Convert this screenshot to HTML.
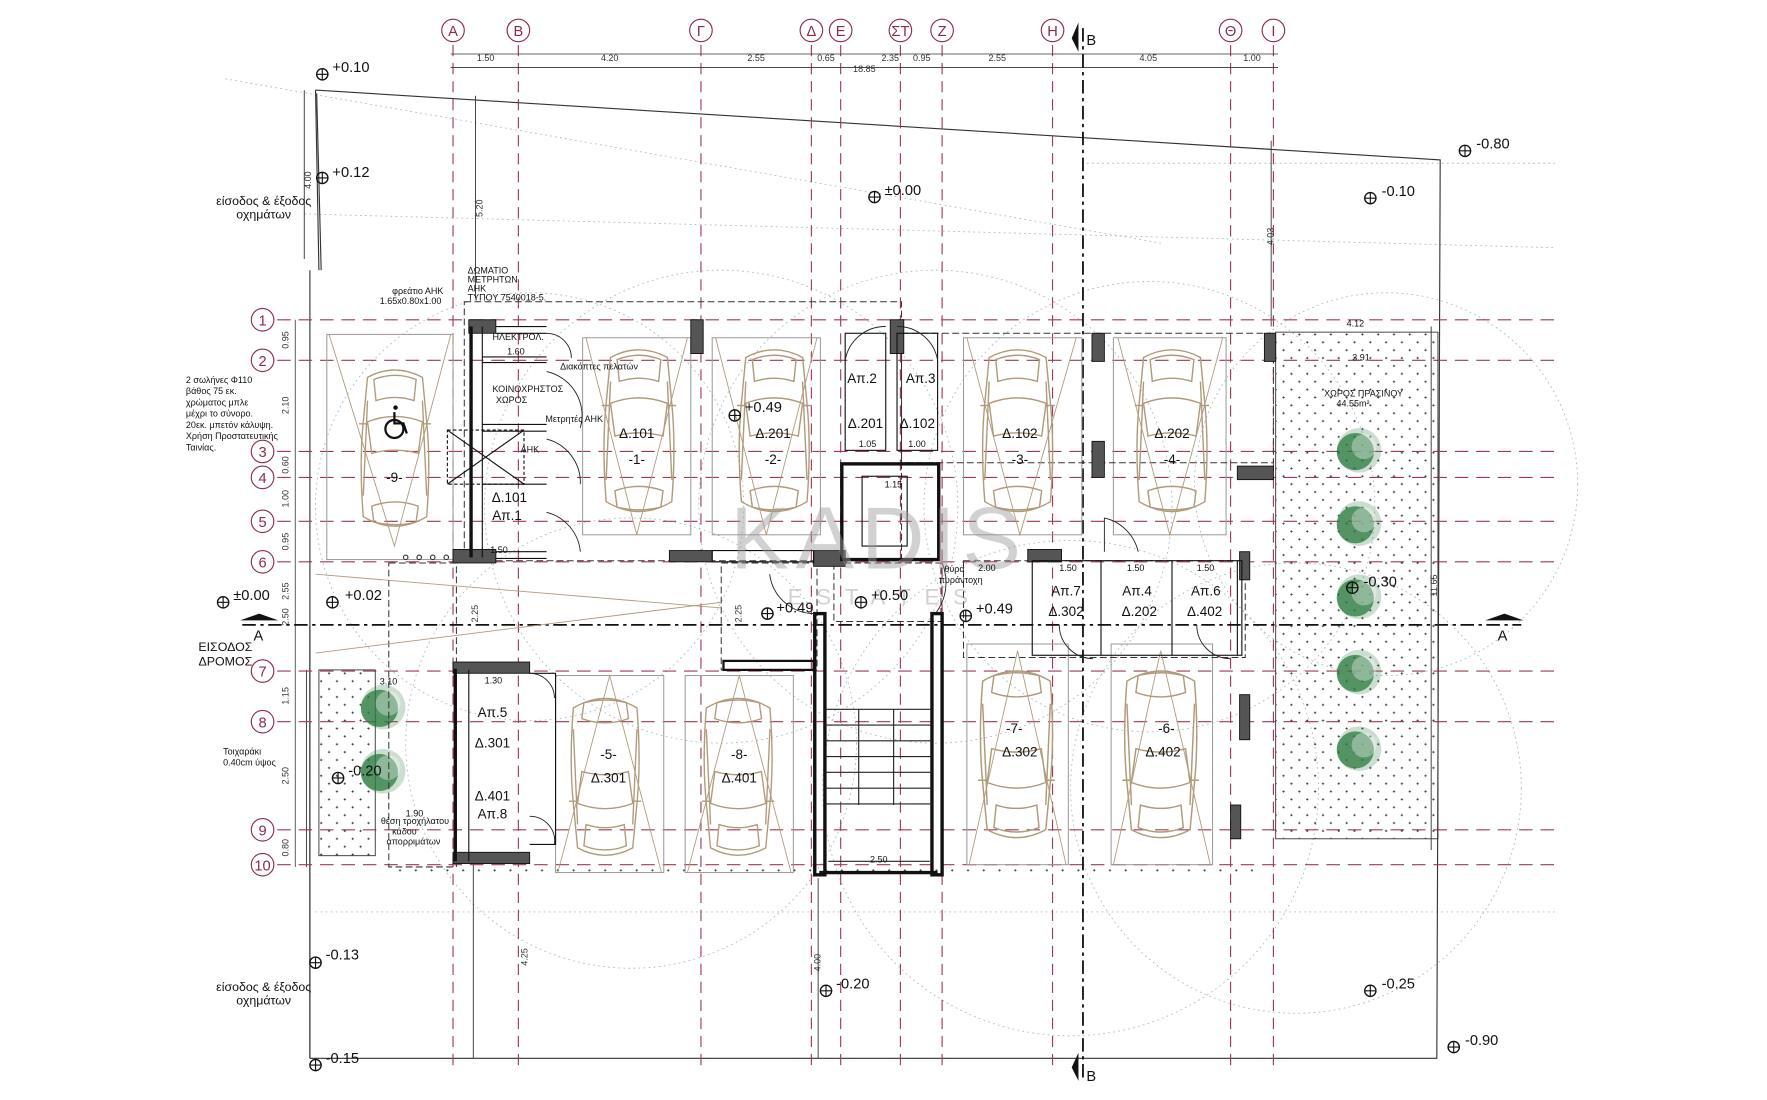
<!DOCTYPE html>
<html><head><meta charset="utf-8">
<style>
html,body{margin:0;padding:0;background:#fff;}
svg{display:block;}
text{font-family:"Liberation Sans",sans-serif;}
</style></head>
<body>
<svg width="1767" height="1100" viewBox="0 0 1568 977" preserveAspectRatio="none" xmlns="http://www.w3.org/2000/svg">
<defs>
<pattern id="dots" width="14" height="14" patternUnits="userSpaceOnUse">
<path d="M4 3h2M5 2v2M11 10h2M12 9v2" stroke="#333" stroke-width="0.7"/>
</pattern>
<symbol id="car" viewBox="0 0 80 170">
<g fill="none" stroke="#b09a7c" stroke-width="1.3">
<path d="M14 18 Q40 4 66 18 L70 60 Q74 100 70 150 Q40 168 10 150 Q6 100 10 60 Z"/>
<path d="M20 20 Q40 12 60 20 L58 40 Q40 34 22 40 Z"/>
<path d="M14 60 Q40 50 66 60 L62 90 Q40 84 18 90 Z"/>
<path d="M18 140 Q40 132 62 140 L60 155 Q40 160 20 155 Z"/>
<path d="M14 40 L10 130 M66 40 L70 130"/>
<path d="M6 62 h8 M66 62 h8"/>
</g>
</symbol>
<symbol id="tree" viewBox="0 0 40 40">
<circle cx="20" cy="20" r="18" fill="#2f7d45" opacity="0.25"/>
<circle cx="17" cy="21" r="15" fill="#2b7a40" opacity="0.75"/>
<circle cx="24" cy="17" r="10" fill="#fff" opacity="0.35"/>
</symbol>
</defs>

<!-- faint dotted arcs -->
<g fill="none" stroke="#a9b8c8" stroke-width="0.8" stroke-dasharray="1.5 3">
<circle cx="470" cy="450" r="190"/>
<circle cx="640" cy="450" r="210"/>
<circle cx="830" cy="450" r="210"/>
<circle cx="1020" cy="450" r="200"/>
<circle cx="1230" cy="430" r="170"/>
<circle cx="560" cy="660" r="200"/>
<circle cx="950" cy="700" r="220"/>
<circle cx="1150" cy="700" r="200"/>
<line x1="200" y1="70" x2="1030" y2="216"/>
<line x1="270" y1="190" x2="1380" y2="220"/>
<line x1="280" y1="810" x2="1380" y2="810"/>
<line x1="960" y1="145" x2="1380" y2="145"/>
</g>

<!-- site boundary -->
<g fill="none" stroke="#333" stroke-width="1">
<path d="M280 80 L1278 142 L1275 940 L275 940"/>
<path d="M280 80 L283 240 M275 240 L275 940"/>
<path d="M281 83 L285 240"/>
<path d="M275 557 L275 940"/>
</g>
<g fill="none" stroke="#333" stroke-width="0.8">
<line x1="270" y1="80" x2="270" y2="230"/>
<line x1="422" y1="85" x2="422" y2="265"/>
<line x1="1128" y1="125" x2="1128" y2="290"/>
<line x1="1270" y1="290" x2="1270" y2="755"/>
<line x1="420" y1="765" x2="420" y2="940"/>
<line x1="726" y1="780" x2="726" y2="940"/>
<line x1="272" y1="595" x2="272" y2="770"/>
</g>

<!-- grid verticals -->
<g stroke="#a03a50" stroke-width="1" stroke-dasharray="10 6">
<line x1="402" y1="40" x2="402" y2="950"/>
<line x1="460" y1="40" x2="460" y2="950"/>
<line x1="622" y1="40" x2="622" y2="950"/>
<line x1="720" y1="40" x2="720" y2="950"/>
<line x1="746" y1="40" x2="746" y2="950"/>
<line x1="799" y1="40" x2="799" y2="950"/>
<line x1="836" y1="40" x2="836" y2="950"/>
<line x1="934" y1="40" x2="934" y2="950"/>
<line x1="1092" y1="40" x2="1092" y2="950"/>
<line x1="1130" y1="40" x2="1130" y2="950"/>
</g>
<!-- grid horizontals -->
<g stroke="#a03a50" stroke-width="1" stroke-dasharray="12 7">
<line x1="246" y1="284" x2="1380" y2="284"/>
<line x1="246" y1="320" x2="1380" y2="320"/>
<line x1="246" y1="401" x2="1380" y2="401"/>
<line x1="246" y1="424" x2="1380" y2="424"/>
<line x1="246" y1="463" x2="1380" y2="463"/>
<line x1="246" y1="499" x2="1380" y2="499"/>
<line x1="246" y1="596" x2="1380" y2="596"/>
<line x1="246" y1="641" x2="1380" y2="641"/>
<line x1="246" y1="737" x2="1380" y2="737"/>
<line x1="246" y1="768" x2="1380" y2="768"/>
</g>

<!-- grid bubbles -->
<g fill="#fff" stroke="#8a2c45" stroke-width="1">
<circle cx="402" cy="27" r="10"/><circle cx="460" cy="27" r="10"/><circle cx="622" cy="27" r="10"/>
<circle cx="720" cy="27" r="10"/><circle cx="746" cy="27" r="10"/><circle cx="799" cy="27" r="10"/>
<circle cx="836" cy="27" r="10"/><circle cx="934" cy="27" r="10"/><circle cx="1092" cy="27" r="10"/>
<circle cx="1130" cy="27" r="10"/>
<circle cx="233" cy="284" r="10"/><circle cx="233" cy="320" r="10"/><circle cx="233" cy="401" r="10"/>
<circle cx="233" cy="424" r="10"/><circle cx="233" cy="463" r="10"/><circle cx="233" cy="499" r="10"/>
<circle cx="233" cy="596" r="10"/><circle cx="233" cy="641" r="10"/><circle cx="233" cy="737" r="10"/>
<circle cx="233" cy="768" r="10"/>
</g>
<g fill="#8a2c45" font-size="13" text-anchor="middle">
<text x="402" y="32">Α</text><text x="460" y="32">Β</text><text x="622" y="32">Γ</text>
<text x="720" y="32">Δ</text><text x="746" y="32">Ε</text><text x="799" y="32">ΣΤ</text>
<text x="836" y="32">Ζ</text><text x="934" y="32">Η</text><text x="1092" y="32">Θ</text><text x="1130" y="32">Ι</text>
<text x="233" y="289">1</text><text x="233" y="325">2</text><text x="233" y="406">3</text>
<text x="233" y="429">4</text><text x="233" y="468">5</text><text x="233" y="504">6</text>
<text x="233" y="601">7</text><text x="233" y="646">8</text><text x="233" y="742">9</text>
<text x="233" y="773">10</text>
</g>

<!-- top dims -->
<g stroke="#333" stroke-width="0.7">
<line x1="400" y1="48" x2="1134" y2="48"/>
<line x1="400" y1="60" x2="1134" y2="60"/>
<line x1="262" y1="284" x2="262" y2="770"/>
</g>
<g font-size="8" fill="#333" text-anchor="middle">
<text x="431" y="54">1.50</text><text x="541" y="54">4.20</text><text x="671" y="54">2.55</text>
<text x="733" y="54">0.65</text><text x="790" y="54">2.35</text><text x="818" y="54">0.95</text>
<text x="885" y="54">2.55</text><text x="1019" y="54">4.05</text><text x="1111" y="54">1.00</text>
<text x="767" y="64">18.85</text>
</g>
<g font-size="8" fill="#333" text-anchor="middle">
<text transform="translate(256,302) rotate(-90)">0.95</text>
<text transform="translate(256,360) rotate(-90)">2.10</text>
<text transform="translate(256,413) rotate(-90)">0.60</text>
<text transform="translate(256,443) rotate(-90)">1.00</text>
<text transform="translate(256,481) rotate(-90)">0.95</text>
<text transform="translate(256,525) rotate(-90)">2.55</text>
<text transform="translate(256,548) rotate(-90)">2.50</text>
<text transform="translate(256,618) rotate(-90)">1.15</text>
<text transform="translate(256,689) rotate(-90)">2.50</text>
<text transform="translate(256,753) rotate(-90)">0.80</text>
<text transform="translate(276,160) rotate(-90)">4.00</text>
<text transform="translate(428,185) rotate(-90)">5.20</text>
<text transform="translate(1130,210) rotate(-90)">4.03</text>
<text transform="translate(1275,520) rotate(-90)">11.65</text>
<text transform="translate(468,850) rotate(-90)">4.25</text>
<text transform="translate(728,855) rotate(-90)">4.00</text>
<text transform="translate(424,545) rotate(-90)">2.25</text>
<text transform="translate(658,545) rotate(-90)">2.25</text>
</g>

<!-- section lines -->
<g stroke="#111" stroke-width="1.6" stroke-dasharray="12 4 3 4">
<line x1="215" y1="555" x2="1350" y2="555"/>
<line x1="961" y1="25" x2="961" y2="960"/>
</g>
<path d="M213 551 L230 545 L247 551 Z M1318 551 L1335 545 L1352 551 Z" fill="#111"/>
<path d="M957 20 L951 34 L957 46 Z M957 935 L951 948 L957 960 Z" fill="#111"/>
<g font-size="13" fill="#111"><text x="225" y="569">Α</text><text x="1329" y="569">Α</text>
<text x="964" y="40">Β</text><text x="964" y="960">Β</text></g>

<!-- green zones -->
<rect x="1132" y="295" width="144" height="450" fill="url(#dots)" stroke="#333" stroke-width="0.8"/>
<rect x="283" y="595" width="50" height="165" fill="url(#dots)" stroke="#333" stroke-width="0.8"/>
<rect x="342" y="768" width="770" height="8" fill="url(#dots)" stroke="none"/>
<g>
<use href="#tree" x="1184" y="378" width="44" height="44"/>
<use href="#tree" x="1184" y="443" width="44" height="44"/>
<use href="#tree" x="1184" y="508" width="44" height="44"/>
<use href="#tree" x="1184" y="575" width="44" height="44"/>
<use href="#tree" x="1184" y="643" width="44" height="44"/>
<use href="#tree" x="318" y="606" width="44" height="44"/>
<use href="#tree" x="318" y="663" width="44" height="44"/>
</g>

<!-- parking slot outlines -->
<g fill="none" stroke="#999" stroke-width="0.9">
<rect x="290" y="297" width="112" height="200"/>
<rect x="517" y="300" width="96" height="175"/>
<rect x="632" y="300" width="96" height="175"/>
<rect x="855" y="300" width="105" height="175"/>
<rect x="988" y="300" width="100" height="175"/>
<rect x="493" y="600" width="96" height="175"/>
<rect x="608" y="600" width="96" height="175"/>
<rect x="858" y="572" width="90" height="196"/>
<rect x="986" y="572" width="90" height="196"/>
</g>
<g fill="none" stroke="#333" stroke-width="0.9" stroke-dasharray="6 3">
<rect x="412" y="268" width="388" height="230"/>
<rect x="800" y="296" width="330" height="115"/>
<rect x="855" y="498" width="250" height="86"/>
<rect x="640" y="500" width="85" height="95"/>
<rect x="740" y="500" width="95" height="52"/>
<rect x="345" y="500" width="60" height="270"/>
</g>
<!-- parking diagonals -->
<g stroke="#b09a7c" stroke-width="0.8" fill="none">
<path d="M292 297 L350 485 L400 297"/>
<path d="M520 300 L565 475 L610 300"/>
<path d="M635 300 L680 475 L725 300"/>
<path d="M858 300 L905 475 L955 300"/>
<path d="M992 300 L1038 475 L1085 300"/>
<path d="M495 775 L541 600 L587 775"/>
<path d="M610 775 L656 600 L702 775"/>
<path d="M860 768 L903 578 L946 768"/>
<path d="M988 768 L1030 578 L1074 768"/>
<line x1="280" y1="580" x2="640" y2="535"/>
<line x1="280" y1="510" x2="640" y2="540"/>
</g>

<!-- cars -->
<use href="#car" x="313" y="318" width="75" height="160"/>
<use href="#car" x="527" y="300" width="80" height="165"/>
<use href="#car" x="647" y="300" width="80" height="165"/>
<use href="#car" x="863" y="300" width="80" height="165"/>
<use href="#car" x="1000" y="300" width="80" height="165"/>
<use href="#car" x="497" y="610" width="80" height="160" transform="rotate(180 537 690)"/>
<use href="#car" x="615" y="610" width="80" height="160" transform="rotate(180 655 690)"/>
<use href="#car" x="862" y="585" width="80" height="170" transform="rotate(180 902 670)"/>
<use href="#car" x="990" y="585" width="80" height="170" transform="rotate(180 1030 670)"/>

<!-- walls -->
<g fill="#555" stroke="#111" stroke-width="0.8">
<rect x="416" y="284" width="24" height="12"/>
<rect x="402" y="488" width="38" height="12"/>
<rect x="613" y="284" width="11" height="30"/>
<rect x="594" y="489" width="38" height="10"/>
<rect x="790" y="284" width="12" height="30"/>
<rect x="969" y="296" width="11" height="25"/>
<rect x="969" y="392" width="11" height="32"/>
<rect x="1098" y="414" width="32" height="12"/>
<rect x="1122" y="296" width="10" height="25"/>
<rect x="912" y="488" width="30" height="11"/>
<rect x="402" y="588" width="68" height="10"/>
<rect x="402" y="757" width="68" height="10"/>
<rect x="1100" y="617" width="9" height="40"/>
<rect x="1092" y="715" width="9" height="30"/>
<rect x="1100" y="490" width="9" height="25"/>
<rect x="722" y="489" width="28" height="14"/>
</g>
<g fill="none" stroke="#111" stroke-width="3">
<line x1="418" y1="290" x2="418" y2="495"/>
<line x1="404" y1="594" x2="404" y2="765"/>
<rect x="747" y="412" width="86" height="85"/>
<rect x="723" y="545" width="9" height="232"/>
<rect x="827" y="545" width="9" height="232"/>
<line x1="727" y1="775" x2="832" y2="775"/>
</g>
<g fill="none" stroke="#111" stroke-width="1">
<line x1="428" y1="290" x2="428" y2="495"/>
<line x1="416" y1="765" x2="416" y2="595"/>
<line x1="440" y1="290" x2="485" y2="290"/>
<line x1="440" y1="296" x2="485" y2="296"/>
<line x1="428" y1="317" x2="485" y2="317"/>
<line x1="428" y1="322" x2="485" y2="322"/>
<line x1="428" y1="377" x2="485" y2="377"/>
<line x1="428" y1="383" x2="485" y2="383"/>
<line x1="428" y1="430" x2="485" y2="430"/>
<line x1="440" y1="490" x2="485" y2="490"/>
<line x1="440" y1="496" x2="485" y2="496"/>
<rect x="397" y="382" width="68" height="48" stroke-dasharray="3 2"/>
<path d="M397 382 L465 430 M465 382 L397 430"/>
<rect x="632" y="489" width="90" height="10"/>
<rect x="642" y="587" width="80" height="8" stroke-width="2"/>
<rect x="750" y="296" width="36" height="104"/>
<rect x="796" y="296" width="36" height="104"/>
<rect x="765" y="423" width="40" height="62"/>
<rect x="916" y="498" width="186" height="84"/>
<line x1="977" y1="498" x2="977" y2="582"/>
<line x1="1040" y1="498" x2="1040" y2="582"/>
<line x1="1098" y1="498" x2="1098" y2="582"/>
<path d="M470 598 L493 598 L493 750 L470 750"/>
</g>
<!-- door swings -->
<g fill="none" stroke="#222" stroke-width="0.8">
<path d="M485 296 A22 22 0 0 1 507 318"/>
<path d="M485 330 A40 40 0 0 1 515 380"/>
<path d="M485 390 A40 40 0 0 1 515 430"/>
<path d="M485 455 A40 40 0 0 1 515 490"/>
<path d="M750 320 A36 36 0 0 1 786 290"/>
<path d="M796 290 A36 36 0 0 1 832 320"/>
<path d="M683 510 A40 40 0 0 0 723 545"/>
<path d="M836 500 A45 45 0 0 1 830 545"/>
<path d="M940 555 A30 30 0 0 0 970 585"/>
<path d="M1062 555 A30 30 0 0 0 1092 585"/>
<path d="M980 460 L980 490 M980 460 A40 40 0 0 1 1010 490"/>
<path d="M470 598 A22 22 0 0 1 492 620"/>
<path d="M470 725 A22 22 0 0 1 492 750"/>
</g>
<!-- stairs -->
<g stroke="#222" stroke-width="1" fill="none">
<line x1="732" y1="630" x2="827" y2="630"/>
<line x1="732" y1="644" x2="827" y2="644"/>
<line x1="732" y1="658" x2="827" y2="658"/>
<line x1="732" y1="672" x2="827" y2="672"/>
<line x1="732" y1="686" x2="827" y2="686"/>
<line x1="732" y1="700" x2="827" y2="700"/>
<line x1="732" y1="714" x2="827" y2="714"/>
<line x1="762" y1="630" x2="762" y2="715"/>
<line x1="793" y1="630" x2="793" y2="715"/>
<line x1="735" y1="765" x2="825" y2="765"/>
</g>
<g fill="#333"><circle cx="360" cy="495" r="2" fill="none" stroke="#333"/><circle cx="372" cy="495" r="2" fill="none" stroke="#333"/><circle cx="384" cy="495" r="2" fill="none" stroke="#333"/><circle cx="396" cy="495" r="2" fill="none" stroke="#333"/></g>
<!-- wheelchair -->
<g fill="none" stroke="#111" stroke-width="2"><circle cx="350" cy="381" r="8"/><path d="M350 366 v10 h8 l3 9"/></g>
<circle cx="351" cy="362" r="2" fill="#111"/>

<!-- watermark -->
<text x="780" y="505" font-size="78" fill="#9a9a9a" opacity="0.45" text-anchor="middle" letter-spacing="6">KADIS</text>
<text x="785" y="537" font-size="20" fill="#9a9a9a" opacity="0.45" text-anchor="middle" letter-spacing="12">ESTATES</text>

<!-- level markers -->
<g fill="none" stroke="#111" stroke-width="1.2">
<circle cx="286" cy="66" r="5"/><circle cx="286" cy="158" r="5"/><circle cx="776" cy="175" r="5"/>
<circle cx="1300" cy="134" r="5"/><circle cx="1216" cy="176" r="5"/><circle cx="198" cy="535" r="5"/>
<circle cx="295" cy="535" r="5"/><circle cx="652" cy="369" r="5"/><circle cx="681" cy="545" r="5"/>
<circle cx="764" cy="535" r="5"/><circle cx="857" cy="547" r="5"/><circle cx="1200" cy="522" r="5"/>
<circle cx="300" cy="691" r="5"/><circle cx="280" cy="855" r="5"/><circle cx="733" cy="880" r="5"/>
<circle cx="1216" cy="880" r="5"/><circle cx="1290" cy="930" r="5"/><circle cx="280" cy="946" r="5"/>
</g>
<g stroke="#111" stroke-width="1">
<path d="M281 66h10M286 61v10M281 158h10M286 153v10M771 175h10M776 170v10M1295 134h10M1300 129v10M1211 176h10M1216 171v10M193 535h10M198 530v10M290 535h10M295 530v10M647 369h10M652 364v10M676 545h10M681 540v10M759 535h10M764 530v10M852 547h10M857 542v10M1195 522h10M1200 517v10M295 691h10M300 686v10M275 855h10M280 850v10M728 880h10M733 875v10M1211 880h10M1216 875v10M1285 930h10M1290 925v10M275 946h10M280 941v10"/>
</g>
<g font-size="13" fill="#111">
<text x="295" y="64">+0.10</text><text x="295" y="157">+0.12</text><text x="785" y="173">±0.00</text>
<text x="1310" y="132">-0.80</text><text x="1226" y="174">-0.10</text><text x="207" y="533">±0.00</text>
<text x="306" y="533">+0.02</text><text x="661" y="366">+0.49</text><text x="689" y="544">+0.49</text>
<text x="773" y="533">+0.50</text><text x="866" y="545">+0.49</text><text x="1210" y="521">-0.30</text>
<text x="309" y="689">-0.20</text><text x="289" y="852">-0.13</text><text x="742" y="878">-0.20</text>
<text x="1226" y="878">-0.25</text><text x="1300" y="928">-0.90</text><text x="289" y="944">-0.15</text>
</g>

<!-- labels -->
<g font-size="11" fill="#111" text-anchor="middle">
<text x="234" y="182">είσοδος &amp; έξοδος</text><text x="234" y="194">οχημάτων</text>
<text x="234" y="880">είσοδος &amp; έξοδος</text><text x="234" y="892">οχημάτων</text>
<text x="200" y="578">ΕΙΣΟΔΟΣ</text><text x="200" y="591">ΔΡΟΜΟΣ</text>
</g>
<g font-size="8" fill="#111">
<text x="165" y="340">2 σωλήνες Φ110</text><text x="165" y="350">βάθος 75 εκ.</text>
<text x="165" y="360">χρώματος μπλε</text><text x="165" y="370">μέχρι το σύνορο.</text>
<text x="165" y="380">20εκ. μπετόν κάλυψη.</text><text x="165" y="390">Χρήση Προστατευτικής</text>
<text x="165" y="400">Ταινίας.</text>
<text x="415" y="243">ΔΩΜΑΤΙΟ</text><text x="415" y="251">ΜΕΤΡΗΤΩΝ</text><text x="415" y="259">ΑΗΚ</text>
<text x="415" y="267">ΤΥΠΟΥ 7540018-5.</text>
<text x="348" y="261">φρεάτιο ΑΗΚ</text><text x="337" y="270">1.65x0.80x1.00</text>
<text x="437" y="302">ΗΛΕΚΤΡΟΛ.</text><text x="497" y="328">Διακόπτες πελατών</text>
<text x="437" y="348">ΚΟΙΝΟΧΡΗΣΤΟΣ</text><text x="440" y="358">ΧΩΡΟΣ</text>
<text x="484" y="375">Μετρητές ΑΗΚ</text><text x="462" y="402">ΑΗΚ</text>
<text x="198" y="670">Τοιχαράκι</text><text x="198" y="680">0.40cm ύψος</text>
<text x="338" y="732">θέση τροχήλατου</text><text x="348" y="741">κάδου</text><text x="343" y="750">απορριμάτων</text>
<text x="838" y="508">θύρα</text><text x="833" y="518">πυράντοχη</text>
<text x="1175" y="352">ΧΩΡΟΣ ΠΡΑΣΙΝΟΥ</text><text x="1186" y="361">44.55m²</text>
<text x="1195" y="290">4.12</text><text x="1200" y="320">3.91</text>
<text x="435" y="491">1.50</text><text x="430" y="607">1.30</text><text x="360" y="725">1.90</text>
<text x="337" y="608">3.10</text><text x="772" y="766">2.50</text>
<text x="940" y="507">1.50</text><text x="1000" y="507">1.50</text><text x="1062" y="507">1.50</text>
<text x="868" y="507">2.00</text><text x="762" y="397">1.05</text><text x="806" y="397">1.00</text>
<text x="785" y="433">1.15</text><text x="450" y="315">1.60</text>
</g>
<g font-size="12" fill="#111" text-anchor="middle">
<text x="565" y="389">Δ.101</text><text x="565" y="412">-1-</text>
<text x="686" y="389">Δ.201</text><text x="686" y="412">-2-</text>
<text x="905" y="389">Δ.102</text><text x="905" y="412">-3-</text>
<text x="1040" y="389">Δ.202</text><text x="1040" y="412">-4-</text>
<text x="350" y="428">-9-</text>
<text x="452" y="446">Δ.101</text><text x="450" y="462">Απ.1</text>
<text x="765" y="340">Απ.2</text><text x="817" y="340">Απ.3</text>
<text x="768" y="380">Δ.201</text><text x="814" y="380">Δ.102</text>
<text x="946" y="529">Απ.7</text><text x="946" y="547">Δ.302</text>
<text x="1009" y="529">Απ.4</text><text x="1011" y="547">Δ.202</text>
<text x="1070" y="529">Απ.6</text><text x="1069" y="547">Δ.402</text>
<text x="437" y="637">Απ.5</text><text x="437" y="664">Δ.301</text>
<text x="437" y="711">Δ.401</text><text x="437" y="727">Απ.8</text>
<text x="540" y="674">-5-</text><text x="540" y="695">Δ.301</text>
<text x="656" y="674">-8-</text><text x="656" y="695">Δ.401</text>
<text x="900" y="651">-7-</text><text x="905" y="672">Δ.302</text>
<text x="1035" y="651">-6-</text><text x="1032" y="672">Δ.402</text>
</g>
</svg>
</body></html>
